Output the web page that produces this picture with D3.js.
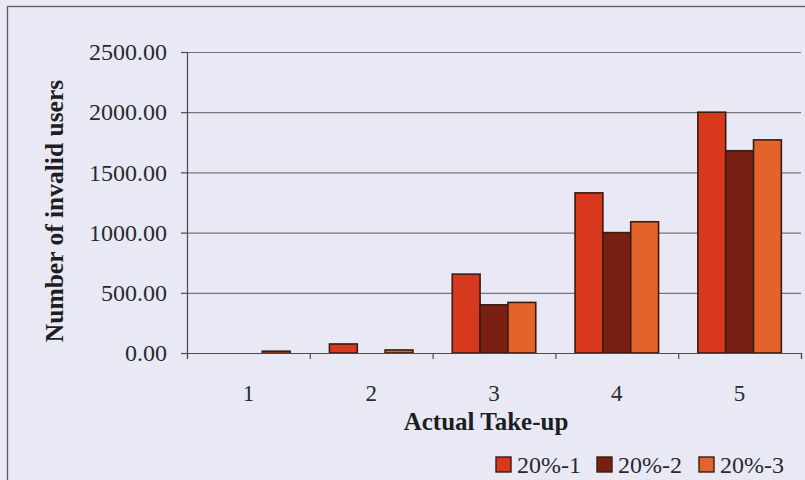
<!DOCTYPE html>
<html>
<head>
<meta charset="utf-8">
<script src="https://cdn.jsdelivr.net/npm/d3@7"></script>
<style>
  html, body { margin: 0; padding: 0; background: #e9e9f5; }
  svg { display: block; }
</style>
</head>
<body>
<svg id="chart" width="805" height="480"></svg>
<script>
// ---- data ----
const categories = ["1", "2", "3", "4", "5"];
const seriesNames = ["20%-1", "20%-2", "20%-3"];
const series1 = [0, 75, 655, 1330, 2000];
const series2 = [0, 0, 400, 1000, 1680];
const series3 = [15, 25, 420, 1090, 1770];
const yTicks = [0, 500, 1000, 1500, 2000, 2500];
const colors = ["#d8381d", "#7a1f14", "#e2632b"];

const svg = d3.select("#chart");
const W = 805, H = 480;
const margin = { left: 187, right: 4, top: 52, bottom: 127 };
const plotW = W - margin.left - margin.right;
const plotH = H - margin.top - margin.bottom;
const font = "'Liberation Serif', 'Times New Roman', serif";

// outer frame
svg.append("rect")
  .attr("x", 7.5).attr("y", 6.5)
  .attr("width", W + 20).attr("height", H + 20)
  .attr("fill", "#e9e9f5").attr("stroke", "#5a5a62").attr("stroke-width", 1.3);

const g = svg.append("g").attr("transform", `translate(${margin.left},${margin.top})`);

const x0 = d3.scaleBand().domain(categories).range([0, plotW]).padding(0);
const gap = x0.bandwidth() * 0.16;
const x1 = d3.scaleBand().domain(seriesNames).range([gap, x0.bandwidth() - gap]).padding(0);
const y = d3.scaleLinear().domain([0, 2500]).range([plotH, 0]);

// gridlines
g.append("g").selectAll("line").data(yTicks.filter(d => d > 0)).join("line")
  .attr("x1", 0).attr("x2", plotW)
  .attr("y1", d => y(d) + 0.5).attr("y2", d => y(d) + 0.5)
  .attr("stroke", "#74747c").attr("stroke-width", 1.2);

// bars
const rows = categories.map((c, i) => ({ cat: c, vals: [series1[i], series2[i], series3[i]] }));
const grp = g.append("g").selectAll("g").data(rows).join("g")
  .attr("transform", d => `translate(${x0(d.cat)},0)`);
grp.selectAll("rect").data(d => d.vals.map((v, k) => ({ v, k })).filter(e => e.v > 0)).join("rect")
  .attr("x", e => x1(seriesNames[e.k]))
  .attr("y", e => y(e.v))
  .attr("width", x1.bandwidth())
  .attr("height", e => Math.max(2, plotH - y(e.v)))
  .attr("fill", e => colors[e.k])
  .attr("stroke", "#3a1c10").attr("stroke-width", 1.6);

// y axis
const yAxis = g.append("g")
  .call(d3.axisLeft(y).tickValues(yTicks).tickFormat(d3.format(".2f")).tickSize(6).tickPadding(14));
yAxis.select(".domain").attr("stroke", "#4a4a50").attr("stroke-width", 1.2);
yAxis.selectAll(".tick line").attr("stroke", "#4a4a50").attr("stroke-width", 1.2);
yAxis.selectAll("text").attr("font-family", font).attr("font-size", 24).attr("fill", "#2a2a2e");

// x axis: boundary ticks
const xb = d3.scaleLinear().domain([0, categories.length]).range([0, plotW]);
const xAxisTicks = g.append("g").attr("transform", `translate(0,${plotH})`)
  .call(d3.axisBottom(xb).tickValues(d3.range(categories.length + 1)).tickFormat("").tickSize(6));
xAxisTicks.select(".domain").attr("stroke", "#4a4a50").attr("stroke-width", 1.2);
xAxisTicks.selectAll(".tick line").attr("stroke", "#4a4a50").attr("stroke-width", 1.2);

// x category labels
const xAxis = g.append("g").attr("transform", `translate(0,${plotH})`)
  .call(d3.axisBottom(x0).tickSize(0).tickPadding(32));
xAxis.select(".domain").remove();
xAxis.selectAll("text").attr("font-family", font).attr("font-size", 23).attr("fill", "#2a2a2e");

// axis titles
svg.append("text")
  .attr("x", 486).attr("y", 430)
  .attr("text-anchor", "middle")
  .attr("font-family", font).attr("font-weight", "bold").attr("font-size", 25)
  .attr("fill", "#1e1e22")
  .text("Actual Take-up");

svg.append("text")
  .attr("transform", "translate(63,211) rotate(-90)")
  .attr("text-anchor", "middle")
  .attr("font-family", font).attr("font-weight", "bold").attr("font-size", 25.5)
  .attr("fill", "#1e1e22")
  .text("Number of invalid users");

// legend
const legendX = [496, 597, 699];
const lg = svg.append("g").selectAll("g").data(seriesNames).join("g")
  .attr("transform", (d, i) => `translate(${legendX[i]},457)`);
lg.append("rect").attr("width", 15).attr("height", 15)
  .attr("fill", (d, i) => colors[i]).attr("stroke", "#3a1c10").attr("stroke-width", 1.4);
lg.append("text").attr("x", 21).attr("y", 15.5)
  .attr("font-family", font).attr("font-size", 24).attr("fill", "#2a2a2e")
  .text(d => d);
</script>
</body>
</html>
